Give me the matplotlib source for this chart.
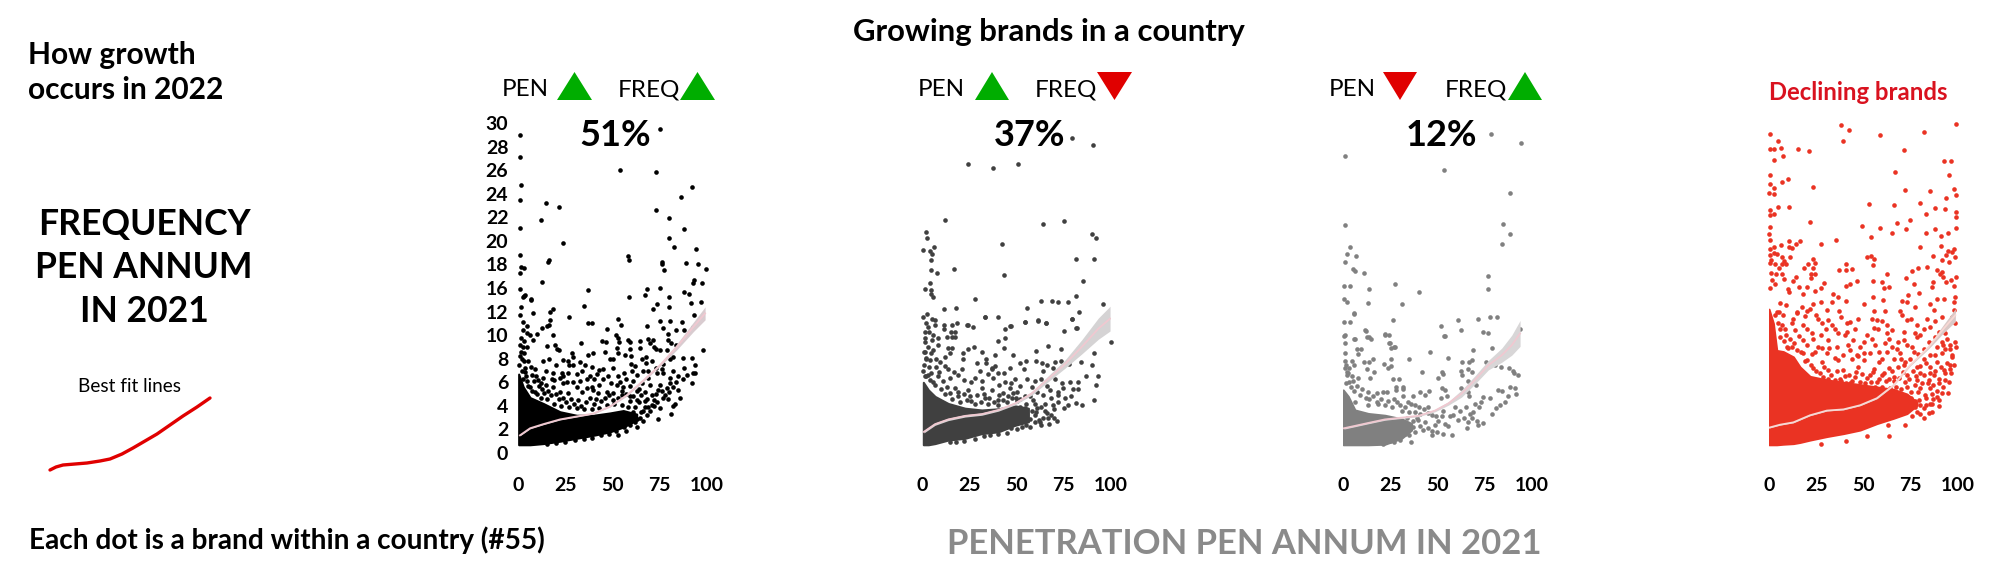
import numpy as np
import matplotlib
matplotlib.use("Agg")
import matplotlib.pyplot as plt
from matplotlib.patches import Polygon

plt.rcParams["font.family"] = ["Lato", "DejaVu Sans"]

BLACK = "#000000"
DARK = "#404040"
GREY = "#808080"
RED_DOT = "#ea3323"
GREEN = "#00ad00"
RED = "#e00000"

# the source axis has no "14" label
y_ticks = [0, 2, 4, 6, 8, 10, 12, 16, 18, 20, 22, 24, 26, 28, 30]
x_ticks = [0, 25, 50, 75, 100]
shares = ["51%", "37%", "12%"]

# panel 1, growing on both
dots1 = [
    (1.2, 29.0), (1.2, 27.1), (1.6, 24.7), (1.2, 23.5), (14.6, 23.2), (21.9, 22.85), (12.2, 21.75), (1.2, 21.1),
    (23.6, 19.8), (1.2, 18.8), (16.6, 18.4), (16, 18.2), (1.4, 17.8), (3.4, 17.7), (1.2, 17.3), (12.5, 16.5),
    (1.2, 15.9), (37.2, 15.84), (2.8, 15.25), (3.7, 15.4), (6.7, 15.1), (75, 29.5), (54.1, 26), (73.2, 25.8),
    (92, 24.6), (86.2, 23.7), (73.2, 22.6), (79.7, 21.9), (88, 21), (80, 20.2), (82.7, 19.5), (94.2, 19.3),
    (58, 18.7), (58.6, 18.35), (76, 18.2), (76.3, 18), (89, 18.1), (95.2, 18), (99.3, 17.6), (77.4, 17.5),
    (93, 16.7), (92.4, 16.4), (97.4, 16.4), (68.4, 15.9), (75, 16), (88, 15.7), (90.7, 15.5), (67.4, 15.4),
    (58.9, 15.2), (79.7, 15.25), (3.2, 15.3), (6.7, 15.0), (35.1, 14.5), (96.8, 14.8), (91.4, 14.7), (73.4, 14.6),
    (79.7, 14.4), (71.6, 14.2), (93.1, 11.75), (18.7, 14.2), (16.8, 12), (7.9, 11.9), (1.6, 14.4), (1, 11.75),
    (27.2, 11.5), (53.1, 11.4), (75, 11.2), (80.4, 11.2), (87, 11.1), (16.9, 11.3), (2.5, 11.1), (36.9, 11),
    (39, 11), (16.6, 10.9), (54.3, 10.85), (68.4, 10.8), (4.6, 10.8), (12.9, 10.6), (15.2, 10.75), (46.9, 10.5),
    (76.5, 10.6), (92.8, 10.7), (87.8, 10.4), (83.6, 10.4), (2.8, 10.4), (4.6, 10.2), (6.4, 10), (10.2, 10.1),
    (18.3, 10), (51.7, 10), (79.5, 10.1), (79.5, 9.6), (8.1, 9.6), (52.7, 9.8), (44.4, 9.5), (46.6, 9.4),
    (58.4, 9.6), (69, 9.7), (71.6, 9.6), (64.6, 9.5), (33.2, 9.35), (53.6, 9.4), (59.3, 9.4), (19.4, 9.2),
    (15.5, 9.1), (81.1, 9.3), (83.4, 9.15), (69.8, 9.3), (72, 9), (64.4, 8.9), (59.3, 8.8), (73, 8.8),
    (52.6, 8.9), (2.8, 9), (20.5, 8.8), (21.9, 8.7), (46, 8.6), (52.7, 8.5), (28.6, 8.45), (29.3, 8.15),
    (39.5, 8.45), (37.2, 8.3), (56.6, 8.3), (59.6, 8.2), (75.1, 8.7), (78.7, 8.7), (97.7, 8.7), (91.9, 8.05),
    (87.5, 8.1), (82.2, 8.15), (80.4, 8), (67.7, 8.15), (65.6, 8), (48.7, 8), (50, 8), (13.4, 7.8),
    (16.4, 7.95), (24, 7.9), (26.6, 7.8), (32.8, 7.75), (35.4, 7.45), (20.1, 7.45), (27, 7.45), (29.3, 7.45),
    (39, 7.3), (59.6, 7.55), (67.7, 7.65), (70.7, 7.8), (76.9, 7.55), (93.6, 7.5), (87.8, 7.25), (82.2, 7),
    (76.2, 7.1), (45.1, 7.15), (43, 7.05), (50, 7.25), (60.1, 7), (66.3, 7), (14.6, 7), (23.1, 6.8),
    (38.1, 6.5), (36.3, 6.25), (26.6, 6.75), (92.4, 6.75), (93.6, 6.75), (89.2, 6.6), (84.8, 6.55), (80.4, 6.4),
    (73.4, 6.75), (76.5, 6.75), (69, 6.4), (62.8, 6.6), (53, 6.5), (47.8, 6.5), (45.1, 6.3), (9.5, 6.5),
    (13.4, 6.4), (17.8, 6.3), (91.9, 5.9), (87.5, 6.25), (83.4, 6.05), (80.4, 5.9), (79, 5.5), (80.1, 5.2),
    (82.2, 5.6), (84.8, 5.35), (75.1, 5.75), (74.3, 5.35), (69.8, 5.75), (65.4, 5.9), (61, 6.1), (54, 6.05),
    (52.2, 5.75), (55.7, 5.6), (39, 5.6), (36.3, 5.5), (31, 5.6), (24, 5.9), (29.3, 6.05), (18.7, 5.6),
    (85.7, 4.65), (83.1, 4.2), (82.2, 4), (79.5, 4.55), (76.9, 4.65), (73.4, 4.35), (72, 3.95), (70.7, 4.1),
    (74.3, 2.9), (80.8, 3.35), (67.2, 3.9), (62.8, 4.5), (59.3, 4.8), (54.9, 4.9), (50.4, 5.05), (46.9, 5.2),
    (42.5, 5.05), (39.9, 5.35), (33.7, 5.2), (26.6, 5.05), (22.2, 5.2), (0.5, 7.5), (0.8, 8.2), (1.5, 8.6),
    (3, 7.8), (2, 7), (1, 9.2), (4, 6.5), (2.5, 6.3), (5.5, 5.7), (7.5, 5.3), (10, 5), (12, 4.7),
    (15.5, 4.6), (19, 4.2), (23, 4), (27, 3.9), (31, 3.8), (35, 3.75), (39, 3.7), (43, 3.8), (47, 4.1),
    (51, 4.2), (55, 4.1), (58, 3.9), (62, 3.9), (65, 3.5), (68, 3.2), (66, 2.7), (62, 2.6), (59, 2.4),
    (56, 2.2), (52, 1.9), (53, 1.5), (39, 1.3), (15.5, 0.75), (63, 2.9), (70, 3.6), (60, 3.2), (64, 4.3),
    (68, 4.6), (71, 4.9), (3.5, 6.9), (5, 6.1), (6.5, 5.6), (8.5, 6.1), (9, 5.2), (11, 5.7), (12.5, 5.4),
    (14, 5.1), (16, 5.3), (17.5, 4.9), (20, 5.0), (21.5, 4.6), (24, 4.7), (25.5, 4.3), (28, 4.6), (29.5, 4.2),
    (32, 4.5), (33.5, 4.0), (36, 4.3), (38, 4.7), (40, 4.2), (41.5, 4.6), (44, 4.4), (46, 4.7), (48, 4.9),
    (50, 4.5), (53, 4.7), (55, 5.3), (57, 5.0), (59, 4.4), (61, 4.8), (63, 5.3), (65, 4.9), (67, 4.4), (69, 3.9),
    (72, 4.5), (66, 3.6), (61, 3.5), (63, 2.2), (64.5, 3), (58, 2.9), (55, 2.7), (57, 1.9), (50, 2.4), (48, 1.6),
    (44, 1.5), (35, 1.15), (30, 1.1), (25, 0.95), (20, 0.85), (7.2, 6.6), (10.5, 6.2), (15, 5.8), (19, 6.2),
    (22, 6.4), (26, 6.0), (33, 6.1), (40, 6.3), (43, 5.8), (49, 5.9), (57, 6.3), (59.5, 5.7), (64, 5.4), (67, 5.2),
    (73, 5.0), (76, 5.3), (78, 4.9), (75, 3.8), (12, 5.9), (7, 7.3), (9, 7.1), (5.5, 7.8), (3, 8.5), (4.5, 9),
    (1.5, 9.8), (3, 9.5), (2, 8), (3.8, 7.2), (18.5, 6.8), (24, 6.5), (31, 6.7), (34, 7), (42, 6.7), (56, 6.8),
    (62, 7.4), (69, 7), (73, 7.2),
]
mass1_x = [0.35, 2.8, 6.4, 13.4, 22.2, 31, 39.9, 48.7, 55.7, 62.8]
mass1_lo = [0.7, 0.7, 0.7, 0.8, 1.0, 1.25, 1.5, 1.8, 2.2, 2.8]
mass1_hi = [6.7, 5.6, 4.7, 4.2, 3.5, 3.2, 3.2, 3.4, 3.6, 3.3]
fit1_x = [1, 6.4, 13.4, 22.2, 31, 39.9, 48.7, 57.5, 66.3, 75.1, 84, 92.8, 99]
fit1_y = [1.5, 2.1, 2.45, 2.85, 3.1, 3.35, 3.95, 4.9, 6.15, 7.45, 9, 10.7, 11.85]
fit1_lo = [1.45, 2.05, 2.4, 2.8, 3.05, 3.3, 3.9, 4.82, 6.05, 7.35, 8.75, 10.3, 11.3]
fit1_hi = [1.55, 2.15, 2.5, 2.9, 3.15, 3.4, 4.0, 4.98, 6.25, 7.55, 9.25, 11.1, 14.4]

# panel 2, pen up, freq down
dots2 = [
    (79.5, 28.75), (90.3, 28.15), (24.5, 26.55), (37.7, 26.2), (51, 26.55), (12, 21.75), (63.8, 21.46), (75, 21.66),
    (1.9, 20.76), (2.6, 20.2), (0.7, 19.2), (6.5, 19.5), (4.2, 19.1), (5.1, 18.9), (4.6, 18.4), (89.8, 20.56),
    (92.2, 20.25), (42.5, 19.74), (81.7, 18.5), (90.8, 18.5), (4.8, 17.5), (8.1, 17.3), (16.8, 17.6), (43.4, 17.1),
    (85, 16.6), (4.2, 16.4), (1.4, 15.9), (4.6, 15.8), (4.6, 15.5), (5.6, 15.2), (28.2, 15.05), (63.1, 14.9),
    (69, 14.9), (72, 14.8), (77.4, 14.8), (81.3, 15.3), (96, 14.6), (18, 14.3), (11.6, 14.2), (55.7, 14.3),
    (83.2, 12), (2.8, 11.8), (0.7, 11.5), (5.1, 11.4), (33.5, 11.5), (40.4, 11.5), (61.6, 11.2), (54.5, 11.1),
    (79.4, 11.35), (65.6, 11), (6.7, 11.3), (81.8, 10.6), (97.2, 10.5), (100, 9.4), (23.6, 10.9), (27.2, 10.7),
    (46.6, 10.75), (44.1, 10.5), (11.8, 10.9), (16, 10.9), (18.3, 11), (24.2, 10.9), (1.9, 11), (6.9, 10.9),
    (3.4, 10.7), (11.8, 10.5), (15.3, 10.3), (17.5, 10.3), (1.6, 10.3), (3.7, 10.3), (13, 9.85), (15.7, 9.85),
    (17.5, 9.85), (5.6, 10), (8.6, 9.8), (1.6, 9.45), (5.1, 9.6), (8.6, 9.2), (43.9, 9.8), (40, 9.5),
    (43.6, 8.95), (27.7, 9), (24.5, 8.8), (13.9, 8.95), (15.7, 8.95), (21.9, 8.5), (31.6, 8.6), (38.6, 8.3),
    (48.3, 8.3), (60.1, 8.65), (66.5, 9.1), (73.5, 8.85), (82.7, 8.85), (91.2, 8.45), (75.1, 10.35), (81.7, 10.6),
    (61.6, 11.3), (65.8, 11), (79.2, 11.35), (46.9, 10.8), (54.5, 11.1), (33.3, 11.5), (1.6, 8.6),
    (6, 8.7), (12.2, 8.15), (14.8, 8.45), (21.9, 8), (28.9, 7.6), (33.7, 8), (33.7, 7.6), (38.6, 7.4),
    (37.2, 7.25), (51.9, 7.6), (54.9, 7.8), (60.1, 7.8), (63.7, 7.65), (66, 7.45), (70.4, 7.75), (73.4, 7.8),
    (77.8, 7.55), (84.1, 7.75), (89.8, 7.45), (53.8, 7.1), (46.6, 7.25), (64.2, 7), (69.1, 7.2), (43.6, 6.75),
    (30.7, 7), (21, 7.15), (13.9, 7.15), (86.6, 6.55), (92.9, 6.55), (91.9, 5.75), (82.7, 6.05), (78.3, 6.05),
    (73.9, 5.9), (70.4, 6.25), (63, 6.3), (55.4, 6.25), (49.2, 6.3), (37.7, 6.4), (28, 6.4), (19.2, 6.6),
    (14.8, 6.4), (91.2, 4.5), (84.5, 4.05), (81.5, 4.25), (78.8, 4.8), (82.7, 5.4), (79.9, 5.4), (74.8, 5.5),
    (72.1, 5.2), (67.7, 5.35), (64.2, 4.9), (75.7, 4.65), (72.1, 4.35), (69.5, 4.05), (77.4, 4.05), (65.1, 4.2),
    (71.3, 2.75), (66.8, 3), (62.4, 2.65), (64.2, 2.95), (60.1, 3.5), (54.5, 3.8), (58.9, 4.5), (54.5, 4.8),
    (50.1, 5.2), (46.6, 5.5), (43, 5.05), (36.9, 5.35), (31.6, 5.5), (24.5, 5.35), (19.2, 5.2), (40.4, 4.5),
    (47.4, 4.65), (33.3, 4.65), (25.4, 4.8), (0.5, 7), (1, 7.5), (2, 8), (3.5, 7.3), (5, 6.8), (1.5, 6.5),
    (4, 6.2), (7, 5.8), (10, 5.4), (12, 5), (16, 4.6), (20, 4.3), (28, 4.2), (35, 4.2), (40, 4.1),
    (45, 4.3), (50, 4.4), (52, 3.9), (58, 3.6), (60, 3.2), (57, 2.9), (55, 2.4), (62, 2.8), (66, 3.4),
    (70, 3.7), (47, 2.1), (40, 1.6), (33, 1.45), (22, 1), (15, 0.95), (2, 6.5), (3, 6.6), (6, 6), (8.5, 6.5),
    (11, 6.1), (13, 5.6), (15, 5.1), (17.5, 5.5), (19, 4.8), (22, 5), (24, 4.5), (26, 4.4), (29, 4.9), (31, 4.3),
    (33, 5), (35.5, 4.7), (38, 4.3), (41, 4.9), (43, 4.5), (45.5, 4.8), (48, 5.1), (49.5, 4.7), (52, 4.6), (55, 4.2),
    (57, 4.8), (60, 4.2), (61, 3.8), (63, 3.9), (65, 3.6), (68, 3.2), (70, 3), (67, 2.5), (63, 2.4), (60, 2.6),
    (57, 2.2), (53, 2.2), (50, 2), (45, 1.7), (36, 1.5), (28, 1.15), (18, 0.9), (7.5, 7.3), (9, 6.9), (12, 7.4),
    (3, 9), (1.5, 9.8), (5, 8.5), (7.5, 8), (4, 7.9), (9.5, 7.7), (0.8, 8.6), (2.3, 8.1), (17, 6.9), (22, 6.2),
    (26, 6), (32, 6.1), (35, 6.7), (41, 5.8), (44, 6), (47, 5.9), (52, 5.7), (58, 5.6), (61, 5.2), (66, 5.7),
    (68, 4.7), (72, 4.9), (75, 3.8), (60, 6.1), (37, 7.1), (40, 6.8),
]
mass2_x = [0.7, 3.4, 6.9, 13.9, 22.8, 31.6, 40.4, 49.2, 56.3]
mass2_lo = [0.7, 0.7, 0.8, 1.1, 1.25, 1.65, 1.8, 2.35, 2.65]
mass2_hi = [6, 5.35, 4.8, 4.2, 3.8, 3.65, 3.75, 4, 3.8]
fit2_x = [1, 6.9, 13.9, 22.8, 31.6, 40.4, 49.2, 58, 66.8, 75.7, 84.5, 93.3, 99.5]
fit2_y = [1.8, 2.45, 2.85, 3.15, 3.3, 3.65, 4.2, 5.05, 6.3, 7.55, 9, 10.55, 11.4]
fit2_lo = [1.7, 2.35, 2.75, 3.05, 3.2, 3.55, 4.08, 4.9, 6.05, 7.2, 8.4, 9.65, 10.35]
fit2_hi = [1.9, 2.55, 2.95, 3.25, 3.4, 3.75, 4.32, 5.2, 6.55, 7.9, 9.6, 11.45, 14.45]

# panel 3, pen down, freq up
dots3 = [
    (78.3, 29.1), (94.1, 28.3), (0.9, 27.2), (53.2, 26), (88.2, 24.1), (0.9, 21.35), (84.4, 21.4), (88.2, 20.6),
    (83.9, 19.7), (3.5, 19.5), (2.1, 18.9), (6.9, 18.7), (0.9, 18.2), (5.4, 17.65), (6.1, 17.4), (11.1, 17.3),
    (76.6, 17), (76.6, 15.9), (0.7, 16.2), (3.5, 16.2), (13.9, 15.9), (27.7, 16.3), (40.2, 15.65), (0.7, 15.05),
    (1.9, 14.8), (13, 14.7), (31.2, 14.6), (5.9, 11.8), (0.7, 11.1), (3.5, 11.1), (26.2, 11.3), (71.6, 11.4),
    (78, 11.5), (81.3, 11.55), (60.8, 11.3), (62.2, 10.4), (51.8, 10.8), (53.4, 9.9), (74, 10.3), (76.8, 10.15),
    (11.8, 10.4), (13.7, 9.85), (22, 10.05), (24.4, 10), (0.7, 9.9), (5.9, 9.65), (24.4, 9.3), (27.2, 9),
    (46.1, 8.6), (78.7, 8.9), (93.6, 10.5), (68.6, 8.7), (35, 8), (55.8, 8.1), (6, 11.9), (12, 10.35),
    (22.2, 10.1), (1, 10), (6.3, 9.65), (12.5, 9.85), (14.8, 9.7), (1, 9.3), (24.9, 9.35), (27.5, 9),
    (25.4, 8.95), (7.2, 8.85), (9.5, 8.8), (1, 8.45), (7.8, 8.4), (54, 9.9),
    (1, 7.8), (4.6, 7.8), (11.3, 7.75), (13.8, 7.75),
    (15.7, 7.95), (25.2, 7.95), (21.5, 7.55), (24, 7.2), (25.4, 7.35), (62.8, 7.7), (66.8, 7.75), (68.4, 7.9),
    (75.5, 7.75), (80.4, 7.5), (83.6, 7.3), (87.8, 7.2), (89.8, 6.95), (92.8, 6.6), (90.5, 6.75), (6, 7.45),
    (1, 7.2), (12.5, 7.1), (16.4, 6.9), (41.6, 6.9), (52.6, 6.9), (53.1, 6.7), (62.4, 7), (66.3, 7.1),
    (63.1, 6.6), (68, 6.9), (50.4, 6.4), (26.6, 6.3), (29.6, 6.3), (4.6, 6.5), (8.1, 6.4), (14.3, 6.4),
    (1.9, 6.6), (27.9, 5.6), (31.6, 5.6), (28.1, 5.35), (31.6, 5.4), (52.6, 5.55), (54, 5.35), (66, 6.1),
    (70.5, 5.75), (62.4, 5.5), (66.3, 5.2), (82.2, 5.35), (84, 5.25), (88.4, 5.6), (91, 5.5), (91.4, 5),
    (87.1, 4.85), (66.8, 4.85), (13.4, 5.2), (17.8, 5.05), (21.3, 5.2), (23.1, 5.2), (9, 4.9), (40.8, 5.15),
    (45.7, 5.25), (43.4, 4.9), (31.9, 4.8), (37.2, 4.8), (51.9, 4.65), (54.9, 4.85), (74.3, 4.75), (73, 4.35),
    (69.8, 4.2), (77.8, 4.65), (85.7, 4.35), (83.1, 4.05), (81, 3.85), (64.9, 3.9), (69, 3.5), (67.2, 3.35),
    (78.7, 3.3), (74.3, 2.55), (71.6, 2.4), (70.7, 2.75), (66.3, 2.65), (65.4, 2.15), (59.3, 3.9), (61, 2.8),
    (56.6, 3.1), (52.2, 3.1), (54, 2.5), (55.7, 2.25), (57.5, 1.5), (53.1, 1.65), (49.6, 1.8), (48.7, 2.35),
    (46.9, 1.5), (42.2, 1.95), (36, 0.95), (45.1, 3.9), (38, 4.05), (34.6, 4.35), (28.4, 4.35), (22.2, 4.05),
    (17.8, 4.35), (13.4, 4.05), (6.3, 4.35), (39.9, 2.8), (43.4, 2.65), (38, 1.8), (1.5, 5.9), (3, 6), (4, 5.6),
    (6, 5.3), (7.5, 5.7), (10, 5.4), (12, 4.7), (14, 4.6), (16, 4.8), (18.5, 4.2), (20, 4.6), (24, 4.4), (26, 3.9),
    (27, 4.6), (30, 4.1), (31, 3.6), (33, 3.9), (35, 3.5), (36, 4.2), (38, 3.5), (40, 3.9), (41, 3.3), (43, 3.7),
    (45, 3.4), (47, 3.2), (49, 3.1), (34, 3), (37, 2.7), (41, 2.3), (45, 2.1), (37, 2.2), (33, 1.6), (30, 1.1),
    (27, 0.9), (21, 0.8), (25, 1.05), (35, 1.5), (39, 3), (3, 7.2), (2, 6.9), (1.5, 7.5), (2.5, 6.8), (5.5, 6.1),
    (47, 1.9), (50, 2.7), (53, 3.6), (58, 3.2), (62, 3.6), (64, 3), (68, 3), (72, 3.9),
]
mass3_x = [0.1, 2.8, 6.3, 13.4, 22.2, 31, 36.3]
mass3_lo = [0.7, 0.7, 0.7, 0.7, 0.75, 1.25, 1.95]
mass3_hi = [5.35, 4.8, 3.65, 3.35, 3.2, 2.9, 2.5]
fit3_x = [0.5, 6.3, 13.4, 22.2, 31, 39.9, 48.7, 55.7, 62.8, 69.8, 76.9, 84, 89.3, 93.7]
fit3_y = [2.1, 2.3, 2.55, 2.85, 3, 3.15, 3.6, 4.2, 5.05, 6.2, 7.45, 8.3, 9.15, 10.15]
fit3_lo = [2.03, 2.23, 2.48, 2.78, 2.93, 3.08, 3.5, 4.05, 4.75, 5.85, 7.05, 7.7, 8.3, 9.05]
fit3_hi = [2.17, 2.37, 2.62, 2.92, 3.07, 3.22, 3.7, 4.35, 5.35, 6.55, 7.85, 8.9, 10, 11.25]

# panel 4, declining brands
dots4 = [
    (38.3, 29.8), (42.4, 29.4), (39, 28.5), (58.7, 29), (82.2, 29.25), (98.8, 29.9), (0.4, 29.1), (4.6, 28.5),
    (0.5, 27.8), (2.7, 27.8), (6.4, 27.9), (15.5, 27.8), (21, 27.6), (71.4, 27.7), (7.4, 27.2), (2.8, 26.9),
    (92.8, 26.8), (96.1, 26.8), (66.6, 25.8), (95.4, 25.6), (0.4, 25.6), (10.1, 25.25), (6.9, 25), (0.4, 24.8),
    (2.5, 24.5), (23.5, 24.6), (0.1, 24.1), (2.5, 24), (71.7, 24.3), (85, 24.2), (97.7, 24.4), (98.8, 23.9),
    (93.6, 23.6), (4.6, 22.9), (10.4, 22.9), (52.8, 23.1), (65.9, 23), (79.9, 23.2), (87.6, 22.8), (93.1, 22.7),
    (0.5, 22.6), (0.5, 22.2), (2.7, 22.25), (83, 22.3), (98.9, 22.45), (98.8, 22.05), (21.7, 21.6), (49.1, 21.3),
    (67.8, 21.55), (74.6, 21.8), (0.4, 21.2), (58.7, 21.1), (72.6, 21), (88, 21), (98.8, 21.1), (65, 20.7),
    (83, 20.7), (94.7, 20.7), (0.2, 20.55), (0.7, 20.05), (54.1, 20.3), (35.2, 20.1), (16.3, 20), (10.4, 20),
    (90.8, 20.4), (27.7, 19.7), (6.2, 19.65), (2.7, 19.5), (10.4, 19.5), (12, 19.4), (14.1, 19.7), (79.7, 19.5),
    (91, 19.6), (97.9, 19.3), (94.9, 19.15), (96.8, 19.05), (0.4, 19.3), (2.7, 19), (4.1, 18.9), (0.4, 18.8),
    (7.1, 18.6), (11.1, 18.6), (0.9, 18.4), (8.1, 18.25), (23.5, 18.45), (24.6, 18.1), (51.9, 18.6), (54.1, 18.75),
    (55.8, 18.45), (86.9, 18.7), (93.5, 18.8), (91.5, 18.4), (95, 18.2), (98.2, 18.65), (0.4, 18.1), (3.2, 18.05),
    (6.7, 18), (9.2, 18), (20.5, 18), (18.6, 17.7), (23.3, 17.7), (5.5, 17.7), (41, 18), (40.8, 17.55),
    (43.8, 17.65), (36.9, 17.5), (54.8, 17.95), (79, 17.7), (83.6, 17.8), (75.4, 17.45), (88.9, 17.5), (90.6, 17.2),
    (92, 16.95), (91.5, 17.35), (62.5, 17.2), (0.9, 17.3), (3.7, 17.2), (6.7, 17.15), (22.1, 17.15), (24.6, 17.2),
    (22.1, 16.85), (8.1, 16.8), (14.1, 16.95), (12.9, 16.6), (1.4, 16.7), (98.8, 16.95), (72.4, 16.85), (46.8, 16.6),
    (55.1, 16.6), (60, 16.5), (86.6, 16.5), (96.1, 16.65), (93.8, 16.5), (29, 16.4), (42.9, 16.35), (40.5, 16.2),
    (3.2, 16.3), (15.9, 16.1), (20.1, 16.05), (9.9, 15.9), (27.6, 16), (0.5, 16), (61, 16), (63.6, 16.1),
    (76.9, 16.3), (86.4, 16.1), (97.7, 16.2), (10.8, 15.7), (18.2, 15.5), (24.4, 15.75), (33.7, 15.45), (36.7, 15.25),
    (54.8, 15.25), (60.2, 15), (73.8, 15.4), (79.5, 15.6), (88.9, 15.1), (92.4, 15.1), (98.6, 15.25), (5.8, 14.75),
    (9, 14.55), (17.3, 14.4), (23.1, 14.6), (27.6, 14.8), (33.2, 14.8), (40.8, 14.9), (50.4, 14.6), (70.3, 14.9),
    (73, 14.85), (77.4, 14.4), (85.3, 14.65), (97.7, 14.8), (5.5, 12), (14.7, 11.85), (20, 14.05), (21.7, 14.25),
    (30.6, 14.1), (37.1, 14.05), (55.7, 14.05), (61.5, 14.05), (69.4, 14.05), (87.1, 14.1), (97.7, 14.1), (7.6, 11.7),
    (12.9, 11.35), (19.1, 11.6), (26.1, 11.4), (31.4, 11.25), (33.2, 10.85), (35, 10.55), (43, 11.1), (41.2, 11),
    (54.4, 11.4), (57, 11.3), (62.4, 10.9), (70.3, 11.7), (73, 11.25), (78.3, 10.9), (83.6, 11.4), (91.5, 11.55),
    (96.8, 11.55), (98.6, 11), (8.5, 10.55), (13.8, 10.4), (18.2, 10.9), (22.6, 10.15), (27.6, 10), (36.7, 10.15),
    (41.2, 10.3), (45.6, 10.5), (55.3, 10.6), (57.9, 10.55), (62.4, 10.15), (71.2, 10.3), (77.4, 10.2), (81.8, 10.55),
    (87.9, 9.85), (93.3, 10.15), (5.8, 9.85), (11.1, 9.7), (18.2, 9.6), (23.5, 9.7), (31.4, 9.6), (44.7, 9.6),
    (50, 9.45), (54.4, 9.7), (63.3, 9.7), (71.2, 9.6), (78.3, 9.85), (84.5, 9.45), (98.6, 9.45), (94.2, 9.7),
    (91.5, 9.45), (9.4, 9), (20, 9.15), (26.1, 9), (35.9, 9), (42, 9.15), (48.2, 9), (56.2, 9.15),
    (61.5, 9.3), (67.7, 8.85), (75.6, 9), (81.8, 8.85), (88.9, 9), (95.9, 8.85), (18.2, 8.45), (24.4, 8.6),
    (30.6, 8.45), (39.4, 8.3), (46.5, 8.3), (53.5, 8.45), (62.4, 8.6), (69.4, 8.45), (76.5, 8.6), (85.3, 8.3),
    (91.5, 8.45), (96.8, 8.15), (20, 7.9), (27.9, 7.75), (36.7, 7.9), (43.8, 8), (50, 7.9), (58, 7.75),
    (65.9, 8), (74.7, 8), (81.8, 8), (88.9, 7.75), (95.9, 7.45), (23.5, 7.2), (31.4, 7.05), (39.4, 7.05),
    (47.3, 7.3), (55.3, 7.15), (63.3, 7.2), (71.2, 7.45), (78.3, 7.3), (85.3, 7.3), (92.4, 7.05), (28.8, 6.45),
    (37.6, 6.3), (45.6, 6.45), (53.5, 6.6), (59.7, 6.6), (65.9, 6.45), (73, 6.6), (80, 6.75), (87.1, 6.6),
    (93.3, 6.75), (96.3, 6.75), (43, 5.9), (57.1, 6.05), (63.3, 6.25), (72.1, 6), (78.3, 6.2), (84.5, 6.2),
    (89.8, 5.9), (80, 5.5), (85.3, 5.5), (91.5, 5.05), (94.5, 5.1), (82.7, 4.9), (88.9, 4.75), (79.2, 4.5),
    (86.2, 4.2), (89.8, 3.95), (81.8, 3.8), (84.5, 3.4), (78.3, 3.5), (80, 4.05), (75.6, 3.1), (72.1, 2.35),
    (63.3, 1.45), (62.7, 2.35), (52.1, 1.45), (40.8, 1.05), (27.6, 0.8), (8, 9.5), (12, 9), (15, 8.7), (10, 8.9),
    (6, 10.5), (3, 11.7), (5, 11), (7, 10.9), (4, 12), (9, 10), (13, 9.3), (17, 8.6), (16, 9.9), (19, 7.8),
    (22, 7.5), (25, 7), (27, 6.8), (29, 7.3), (31, 6.3), (33, 6.6), (35, 6.2), (36, 7), (38, 6.1), (40, 6.5),
    (41, 5.9), (42.5, 6.6), (44, 6.1), (46, 6.9), (48, 6), (49, 6.7), (51, 5.9), (52, 6.4), (54, 6), (55, 6.9),
    (56, 5.6), (58, 6.3), (60, 5.6), (61, 6.8), (62, 6.1), (64, 5.5), (65, 7), (66, 6.1), (67, 5.6), (68, 7.3),
    (69, 6.4), (70, 5.4), (71, 6.9), (72, 7.7), (73, 5.6), (74, 6.3), (75, 5.2), (76, 7), (77, 5.8), (78, 6.5),
    (79, 5.2), (80, 7.4), (81, 5.9), (82, 6.6), (83, 4.7), (84, 5.9), (85, 6.8), (86, 5), (87, 5.8), (88, 7),
    (89, 5.3), (90, 6.3), (91, 7.3), (92, 5.6), (93, 6.2), (94, 7.6), (95, 6), (96, 7.1), (97, 8.3), (98, 7.5),
    (99, 9), (90, 4.5), (83, 4.1), (77, 4.4), (75, 4.7), (72, 4.1), (69, 3.5), (66, 3.6), (77, 3.9), (80, 3.3),
    (82, 3), (86, 3.5), (87, 4.6), (85, 4.2), (15, 12), (25, 11.7), (30, 10.5), (38, 11.5), (47, 11.4), (52, 10),
    (60, 11.2), (65, 10.4), (75, 11.4), (80, 10), (88, 11.2), (92, 9.2), (95, 11), (40, 10), (32, 8.9), (20, 10.5),
    (28, 11), (12, 11), (68, 9.4), (73, 9.2), (58, 8.6), (47, 8.2), (35, 8.1), (23, 8.4), (28, 8.9), (43, 8.7),
    (50, 8.5), (60, 8), (65, 9), (70, 8), (79, 8.4), (83, 7.6), (88, 8.3), (93, 8.8), (96, 9.2), (85, 10.7),
    (90, 10.3),
]
mass4_x = [0, 2.3, 4.1, 7.6, 12.9, 16.4, 21.7, 30.6, 39.4, 48.2, 57.1, 65.9, 73, 78.3]
mass4_lo = [0.7, 0.7, 0.7, 0.75, 0.8, 0.9, 1.1, 1.4, 1.65, 1.95, 2.5, 2.95, 3.35, 4.05]
mass4_hi = [14.2, 11, 8.7, 8.6, 8.15, 7.3, 6.5, 6.2, 6, 5.8, 5.6, 5.4, 5, 4.3]
fit4_x = [0, 5.8, 12.9, 21.7, 30.6, 39.4, 48.2, 57.1, 65.9, 74.7, 84.5, 92.4, 98.6]
fit4_y = [2.15, 2.4, 2.6, 3.2, 3.6, 3.7, 4.05, 4.65, 5.75, 7.45, 9, 10.55, 11.7]
fit4_lo = [2.11, 2.36, 2.56, 3.16, 3.56, 3.66, 4.01, 4.6, 5.7, 7.38, 8.85, 10.2, 11.15]
fit4_hi = [2.19, 2.44, 2.64, 3.24, 3.64, 3.74, 4.09, 4.7, 5.8, 7.52, 9.15, 10.9, 14.25]

# hand drawn sample line under "Best fit lines"
sample_x = [50, 56, 63, 75, 87, 100, 110, 122, 133, 145, 157, 170, 183, 197, 210]
sample_y = [470, 467, 465, 464, 463, 461, 459, 454, 448, 441, 434, 425, 416, 407, 398]

W, H = 2000, 581
fig = plt.figure(figsize=(W / 100, H / 100), dpi=100)

# the 14 gets no room on the axis, 12 and 16 sit one step apart
real = [0, 12, 14, 30]
pos = [0, 12, 12.001, 28]


def forward(v):
    return np.interp(v, real, pos)


def inverse(p):
    return np.interp(p, pos, real)


def scatter_panel(left, dots, mass_x, mass_lo, mass_hi, fit_x, fit_y, fit_lo, fit_hi,
                  color, band, line, show_y=False):
    ax = fig.add_axes([left / W, 1 - 453 / H, 189 / W, 330 / H])
    xs, ys = np.array(dots).T
    ax.fill_between(mass_x, mass_lo, mass_hi, color=color, lw=1.5, zorder=2)
    ax.scatter(xs, ys, s=11, color=color, lw=0, clip_on=False, zorder=3)
    ax.fill_between(fit_x, fit_lo, fit_hi, color=band, lw=0, zorder=4)
    ax.plot(fit_x, fit_y, color=line, lw=1.3, zorder=5)
    ax.set_yscale("function", functions=(forward, inverse))
    ax.set_xlim(0, 100)
    ax.set_ylim(0, 30)
    ax.set_xticks(x_ticks)
    ax.set_xticklabels(x_ticks, fontsize=14, fontweight="bold")
    if show_y:
        ax.set_yticks(y_ticks)
        ax.set_yticklabels(y_ticks, fontsize=14, fontweight="bold")
    else:
        ax.set_yticks([])
    ax.minorticks_off()
    ax.tick_params(axis="x", length=0, pad=17)
    ax.tick_params(axis="y", length=0, pad=7)
    for s in ax.spines.values():
        s.set_visible(False)
    ax.patch.set_alpha(0)
    return ax


scatter_panel(518, dots1, mass1_x, mass1_lo, mass1_hi, fit1_x, fit1_y, fit1_lo, fit1_hi,
              BLACK, "#d9ccd0", "#f0c8d0", show_y=True)
scatter_panel(922, dots2, mass2_x, mass2_lo, mass2_hi, fit2_x, fit2_y, fit2_lo, fit2_hi,
              DARK, "#d5d3d4", "#f0c8d0")
scatter_panel(1343, dots3, mass3_x, mass3_lo, mass3_hi, fit3_x, fit3_y, fit3_lo, fit3_hi,
              GREY, "#d8d6d7", "#f0c8d0")
scatter_panel(1769, dots4, mass4_x, mass4_lo, mass4_hi, fit4_x, fit4_y, fit4_lo, fit4_hi,
              RED_DOT, "#d9c9c7", "#f8d8d4")

# page level text and arrows, in pixels
page = fig.add_axes([0, 0, 1, 1], zorder=10)
page.set_xlim(0, W)
page.set_ylim(H, 0)
page.axis("off")


def arrow(x0, x1, up, color):
    if up:
        pts = [(x0, 100), (x1, 100), ((x0 + x1) / 2, 72)]
    else:
        pts = [(x0, 72), (x1, 72), ((x0 + x1) / 2, 100)]
    page.add_patch(Polygon(pts, closed=True, color=color, lw=0))


def label(x, y, s, size, weight="bold", color="black", ha="left"):
    page.text(x, y, s, fontsize=size, fontweight=weight, color=color, ha=ha, va="center")


label(1049, 32, "Growing brands in a country", 22.4, ha="center")
label(28, 55, "How growth", 21.5)
label(28, 90, "occurs in 2022", 21.5)
label(144, 225, "FREQUENCY", 25.6, ha="center")
label(144, 268, "PEN ANNUM", 25.6, ha="center")
label(144, 311, "IN 2021", 25.6, ha="center")
label(130, 387, "Best fit lines", 13.7, weight="normal", ha="center")
label(29, 540, "Each dot is a brand within a country (#55)", 20.2)
label(1244, 544, "PENETRATION PEN ANNUM IN 2021", 24.9, color="#8a8a8a", ha="center")
label(1858, 93, "Declining brands", 17.2, color="#d9121f", ha="center")
page.plot(sample_x, sample_y, color=RED, lw=2.4, solid_capstyle="round")

for x_pen, x_freq in [(502, 618), (918, 1035), (1329, 1445)]:
    label(x_pen, 90, "PEN", 17.5, weight="normal")
    label(x_freq, 90, "FREQ", 17.5, weight="normal")
arrow(557, 592, True, GREEN)
arrow(680, 715, True, GREEN)
arrow(975, 1009, True, GREEN)
arrow(1097, 1132, False, RED)
arrow(1383, 1417, False, RED)
arrow(1508, 1542, True, GREEN)

for cx, s in zip([615, 1030, 1441], shares):
    label(cx, 136, s, 26, ha="center")

fig.savefig("out.png", dpi=100, facecolor="white")
